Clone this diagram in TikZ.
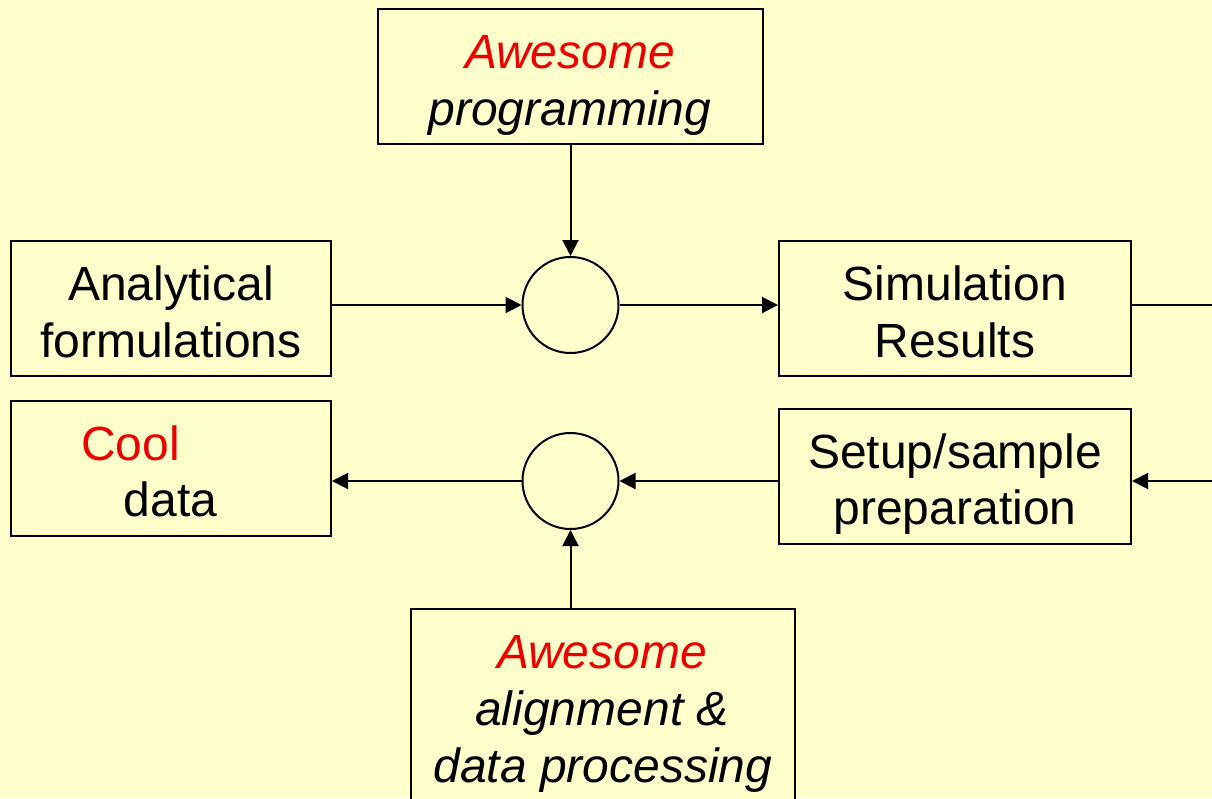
\documentclass[tikz,border=0pt]{standalone}
\usepackage{fontspec}
\setmainfont{Liberation Sans}
\usetikzlibrary{arrows.meta}
\definecolor{paper}{HTML}{FFFFCC}
\definecolor{hilite}{HTML}{EE0000}
\begin{document}
\begin{tikzpicture}[x=1pt,y=-1pt,
  box/.style={draw, line width=2pt, inner sep=0pt, fill=paper},
  junction/.style={circle, draw, line width=2pt, minimum size=96pt, inner sep=0pt, fill=paper},
  txt/.style={inner sep=0pt, anchor=base, font=\fontsize{48}{57}\selectfont},
  flow/.style={line width=2pt, -{Triangle[length=16pt,width=16pt]}},
  plain/.style={line width=2pt}]
  % canvas
  \fill[paper] (0,0) rectangle (1212,798);
  \useasboundingbox (0,0) rectangle (1212,798);
  \clip (0,0) rectangle (1212,798);

  % boxes
  \node[box, minimum width=385pt, minimum height=135pt] (prog)  at (570.5,76.5) {};
  \node[box, minimum width=320pt, minimum height=135pt] (ana)   at (171,308.5) {};
  \node[box, minimum width=352pt, minimum height=135pt] (sim)   at (955,308.5) {};
  \node[box, minimum width=320pt, minimum height=135pt] (cool)  at (171,468.5) {};
  \node[box, minimum width=352pt, minimum height=135pt] (setup) at (955,476.5) {};
  \node[box, minimum width=384pt, minimum height=240pt] (align) at (603,729) {};

  % summing junctions
  \node[junction] (sum1) at (570.5,305) {};
  \node[junction] (sum2) at (570.5,481) {};

  % box texts
  \node[txt] (progA) at (570,68)  {\itshape\color{hilite}Awesome};
  \node[txt] (progB) at (570,125) {\itshape programming};
  \node[txt] (anaA)  at (171,300) {Analytical};
  \node[txt] (anaB)  at (171,357) {formulations};
  \node[txt] (simA)  at (955,300) {Simulation};
  \node[txt] (simB)  at (955,357) {Results};
  \node[txt] (coolA) at (130.5,460) {\color{hilite}Cool};
  \node[txt] (coolB) at (170.5,516) {data};
  \node[txt] (setA)  at (955,468) {Setup/sample};
  \node[txt] (setB)  at (955,524) {preparation};
  \node[txt] (alA)   at (602,668) {\itshape\color{hilite}Awesome};
  \node[txt] (alB)   at (602,725) {\itshape alignment \&};
  \node[txt] (alC)   at (603,782) {\itshape data processing};

  % off-page ends of the feedback loop
  \coordinate (outR) at (1220,305);
  \coordinate (inR)  at (1220,481);

  % connectors
  \draw[flow]  (sum1 |- prog.south) -- (sum1);
  \draw[flow]  (ana.east |- sum1) -- (sum1);
  \draw[flow]  (sum1) -- (sim.west |- sum1);
  \draw[plain] (sim.east |- sum1) -- (outR);
  \draw[flow]  (inR) -- (setup.east |- sum2);
  \draw[flow]  (setup.west |- sum2) -- (sum2);
  \draw[flow]  (sum2) -- (cool.east |- sum2);
  \draw[flow]  (sum2 |- align.north) -- (sum2);
\end{tikzpicture}
\end{document}
